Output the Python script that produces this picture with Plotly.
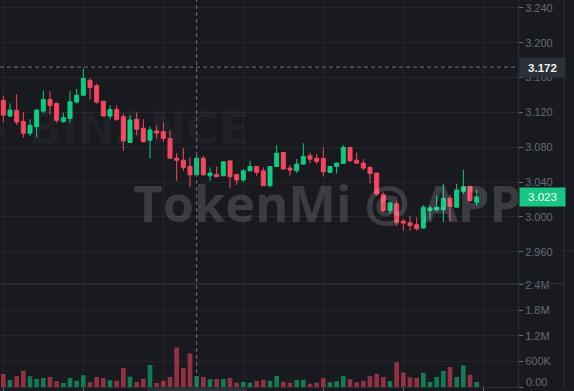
import plotly.graph_objects as go

# ---------------- data ----------------
opens = [3.1337, 3.1158, 3.1223, 3.1097, 3.0960, 3.1037, 3.1215, 3.1349, 3.1303, 3.1094,
         3.1131, 3.1318, 3.1398, 3.1569, 3.1509, 3.1329, 3.1158, 3.1234, 3.1151, 3.0854,
         3.1120, 3.1017, 3.0880, 3.0986, 3.0979, 3.0899, 3.0674, 3.0651, 3.0579, 3.0483,
         3.0674, 3.0472, 3.0488, 3.0472, 3.0643, 3.0488, 3.0423, 3.0529, 3.0579, 3.0529,
         3.0358, 3.0579, 3.0739, 3.0560, 3.0529, 3.0606, 3.0701, 3.0674, 3.0671, 3.0511,
         3.0579, 3.0614, 3.0797, 3.0651, 3.0617, 3.0568, 3.0503, 3.0255, 3.0072, 3.0149,
         2.9951, 2.9931, 2.9909, 2.9871, 3.0072, 3.0080, 3.0083, 3.0214, 3.0111, 3.0294,
         3.0351, 3.0168]
highs = [3.1394, 3.1303, 3.1409, 3.1203, 3.1120, 3.1242, 3.1451, 3.1443, 3.1311, 3.1197,
         3.1443, 3.1471, 3.1703, 3.1589, 3.1531, 3.1329, 3.1280, 3.1280, 3.1189, 3.1166,
         3.1197, 3.1120, 3.1037, 3.1051, 3.1089, 3.0994, 3.0731, 3.0789, 3.0682, 3.0701,
         3.0701, 3.0568, 3.0579, 3.0632, 3.0651, 3.0488, 3.0549, 3.0643, 3.0579, 3.0568,
         3.0579, 3.0823, 3.0739, 3.0594, 3.0663, 3.0846, 3.0739, 3.0720, 3.0797, 3.0579,
         3.0625, 3.0823, 3.0797, 3.0739, 3.0663, 3.0586, 3.0503, 3.0282, 3.0186, 3.0186,
         2.9977, 3.0015, 2.9997, 3.0137, 3.0129, 3.0243, 3.0377, 3.0251, 3.0377, 3.0541,
         3.0351, 3.0312]
lows = [3.1086, 3.1151, 3.1055, 3.0911, 3.0929, 3.0911, 3.1189, 3.1177, 3.1082, 3.1082,
        3.1082, 3.1303, 3.1386, 3.1349, 3.1299, 3.1158, 3.1120, 3.1101, 3.0758, 3.0854,
        3.0937, 3.0854, 3.0671, 3.0899, 3.0861, 3.0663, 3.0415, 3.0529, 3.0339, 3.0483,
        3.0472, 3.0415, 3.0461, 3.0472, 3.0328, 3.0366, 3.0403, 3.0518, 3.0472, 3.0358,
        3.0339, 3.0579, 3.0549, 3.0472, 3.0503, 3.0606, 3.0614, 3.0606, 3.0465, 3.0499,
        3.0499, 3.0614, 3.0643, 3.0617, 3.0537, 3.0385, 3.0243, 3.0054, 3.0034, 2.9894,
        2.9843, 2.9843, 2.9843, 2.9863, 2.9969, 3.0061, 2.9939, 2.9946, 3.0111, 3.0263,
        3.0175, 3.0129]
closes = [3.1169, 3.1226, 3.1089, 3.0960, 3.1051, 3.1226, 3.1349, 3.1280, 3.1109, 3.1139,
          3.1322, 3.1398, 3.1589, 3.1486, 3.1318, 3.1158, 3.1234, 3.1120, 3.0872, 3.1112,
          3.1006, 3.0865, 3.0998, 3.0963, 3.0899, 3.0674, 3.0651, 3.0568, 3.0483, 3.0674,
          3.0483, 3.0503, 3.0461, 3.0632, 3.0461, 3.0423, 3.0529, 3.0579, 3.0511, 3.0358,
          3.0579, 3.0731, 3.0549, 3.0537, 3.0606, 3.0694, 3.0663, 3.0637, 3.0518, 3.0579,
          3.0617, 3.0797, 3.0643, 3.0617, 3.0560, 3.0499, 3.0263, 3.0072, 3.0160, 2.9939,
          2.9928, 2.9901, 2.9863, 3.0111, 3.0103, 3.0111, 3.0214, 3.0122, 3.0309, 3.0346,
          3.0186, 3.0230]
volumes_k = [304, 163, 250, 381, 250, 187, 210, 234, 133, 93,
             210, 147, 273, 110, 234, 210, 156, 147, 444, 241,
             117, 194, 514, 93, 147, 234, 927, 444, 787, 257,
             234, 180, 187, 187, 210, 100, 117, 100, 140, 170,
             147, 257, 124, 100, 163, 170, 77, 100, 203, 110,
             133, 257, 180, 110, 147, 250, 304, 234, 140, 584,
             343, 226, 217, 334, 117, 234, 374, 467, 234, 507,
             287, 117]

price_ticks = [2.960, 3.000, 3.040, 3.080, 3.120, 3.160, 3.200, 3.240]
vol_tickvals = [0, 600000, 1200000, 1800000, 2400000]
vol_ticktext = ['0.00', '600K', '1.2M', '1.8M', '2.4M']

crosshair_index = 29
crosshair_price = 3.172
last_price = 3.023

# ---------------- styling ----------------
BG = '#181a20'
GRID = '#23262b'
AXLINE = '#2b2f36'
UP = '#0ecb81'
DOWN = '#f6465d'
LABEL = '#646a74'
CROSS = '#6b717c'
FONT = 'Liberation Sans'

W, H = 574, 391
PLOT_W, PLOT_H = 518, 389
SPLIT = 285


def px_x(p):
    return p / PLOT_W


def px_y(p):
    return (PLOT_H - p) / PLOT_H


n = len(opens)
x = list(range(n))
volumes = [v * 1000 for v in volumes_k]
vol_colors = ['rgba(14,203,129,0.55)' if c > o else 'rgba(246,70,93,0.55)'
              for o, c in zip(opens, closes)]

fig = go.Figure()

# watermarks (beneath the candles)
fig.add_trace(go.Scatter(
    x=[20.27], y=[3.0960], mode='text', text=['BINANCE'],
    textfont=dict(family='DejaVu Sans', size=44, color='rgba(255,255,255,0.035)', weight='bold'),
    hoverinfo='skip', showlegend=False, xaxis='x', yaxis='y'))
fig.add_trace(go.Scatter(
    x=[48.6], y=[3.0090], mode='text', text=['TokenMi @ APP'],
    textfont=dict(family='Open Sans', size=50.5, color='rgba(255,255,255,0.15)', weight='bold'),
    hoverinfo='skip', showlegend=False, xaxis='x', yaxis='y'))

fig.add_trace(go.Bar(
    x=x, y=volumes, width=0.7,
    marker=dict(color=vol_colors, line=dict(width=0)),
    hoverinfo='skip', showlegend=False, xaxis='x2', yaxis='y2'))

fig.add_trace(go.Candlestick(
    x=x, open=opens, high=highs, low=lows, close=closes,
    increasing=dict(line=dict(color=UP, width=1), fillcolor=UP),
    decreasing=dict(line=dict(color=DOWN, width=1), fillcolor=DOWN),
    whiskerwidth=0, showlegend=False, xaxis='x', yaxis='y'))

xcommon = dict(range=[-0.5, 77.2], showgrid=True, gridcolor=GRID, gridwidth=1,
               tick0=0, dtick=12, zeroline=False, showticklabels=False)

# bottom label ("0.00") is drawn separately so it stays inside the canvas
vol_ticktext_axis = [''] + vol_ticktext[1:]

fig.update_layout(
    width=W, height=H,
    margin=dict(l=0, r=W - PLOT_W, t=0, b=H - PLOT_H),
    paper_bgcolor=BG, plot_bgcolor=BG,
    showlegend=False,
    boxgap=0.4, boxgroupgap=0,
    xaxis=dict(domain=[0, 1], anchor='y', ticks='', rangeslider=dict(visible=False), **xcommon),
    xaxis2=dict(domain=[0, 1], anchor='y2', matches='x', showline=True, linecolor=AXLINE,
                ticks='outside', ticklen=4, tickcolor=LABEL, **xcommon),
    yaxis=dict(domain=[px_y(SPLIT), 1], anchor='x', side='right',
               range=[2.9234, 3.2491], tickvals=price_ticks, tickformat='.3f',
               ticks='outside', ticklen=4, tickcolor=LABEL,
               tickfont=dict(family=FONT, size=11, color=LABEL),
               showgrid=True, gridcolor=GRID, zeroline=False,
               showline=True, linecolor=AXLINE, automargin=False),
    yaxis2=dict(domain=[0, px_y(SPLIT)], anchor='x2', side='right',
                range=[0, 2.43e6], tickvals=vol_tickvals, ticktext=vol_ticktext_axis,
                ticks='outside', ticklen=4, tickcolor=LABEL,
                tickfont=dict(family=FONT, size=11, color=LABEL),
                showgrid=True, gridcolor=GRID, zeroline=False,
                showline=True, linecolor=AXLINE, automargin=False),
)

shapes = [
    # pane divider
    dict(type='line', xref='paper', yref='paper', x0=0, x1=px_x(564),
         y0=px_y(SPLIT), y1=px_y(SPLIT), line=dict(color='#2e3137', width=1)),
    # right panel edge
    dict(type='line', xref='paper', yref='paper', x0=px_x(564), x1=px_x(564),
         y0=px_y(H), y1=1.01, line=dict(color=AXLINE, width=1)),
    dict(type='line', xref='paper', yref='paper', x0=px_x(564), x1=px_x(W),
         y0=px_y(252), y1=px_y(252), line=dict(color=AXLINE, width=1)),
    # crosshair
    dict(type='line', xref='x', yref='paper', x0=crosshair_index, x1=crosshair_index,
         y0=0, y1=1, line=dict(color=CROSS, width=1, dash='4px,3px')),
    dict(type='line', xref='paper', yref='y', x0=0, x1=1,
         y0=crosshair_price, y1=crosshair_price, line=dict(color=CROSS, width=1, dash='4px,3px')),
    # time label box (cut off at bottom)
    dict(type='rect', xref='paper', yref='paper', x0=px_x(147), x1=px_x(247),
         y0=px_y(H + 2), y1=px_y(PLOT_H + 0.5), fillcolor='#2b3139', line=dict(width=0)),
    # faint binance logo tip
    dict(type='path', xref='paper', yref='paper',
         path=f'M {px_x(-6)} {px_y(132)} L {px_x(0)} {px_y(126)} L {px_x(6)} {px_y(132)} L {px_x(0)} {px_y(138)} Z',
         fillcolor='rgba(255,255,255,0.035)', line=dict(width=0), layer='below'),
]
fig.update_layout(shapes=shapes)

fig.add_annotation(xref='paper', yref='paper', x=px_x(524), y=px_y(384),
                   xanchor='left', yanchor='middle', text=vol_ticktext[0], showarrow=False,
                   font=dict(family=FONT, size=11, color=LABEL))

fig.add_annotation(xref='paper', yref='y', x=px_x(519), y=crosshair_price,
                   xanchor='left', yanchor='middle', text='<b>3.172</b>', showarrow=False,
                   font=dict(family=FONT, size=11.5, color='#eaecef'),
                   bgcolor='#2b3139', width=45, height=19, borderpad=0, align='center')
fig.add_annotation(xref='paper', yref='y', x=px_x(519), y=last_price,
                   xanchor='left', yanchor='middle', text=f'{last_price:.3f}', showarrow=False,
                   font=dict(family=FONT, size=11.5, color='#ffffff'),
                   bgcolor='#16c784', width=45, height=18, borderpad=0, align='center')

fig.write_html('out.html')
